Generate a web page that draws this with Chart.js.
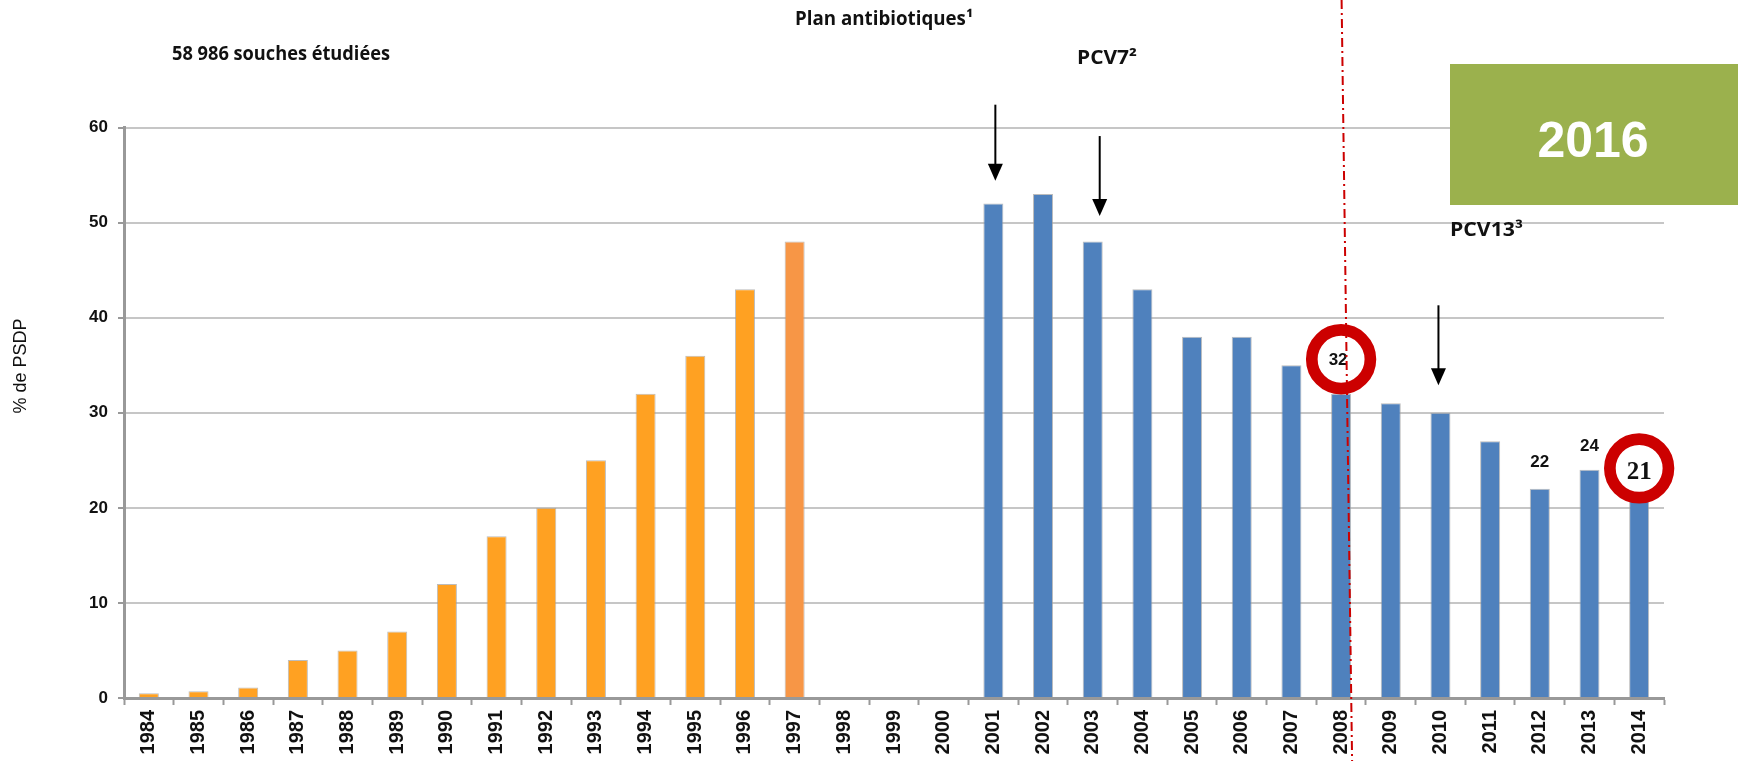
<!DOCTYPE html>
<html lang="fr">
<head>
<meta charset="utf-8">
<title>% de PSDP 1984-2014</title>
<script src="https://cdn.jsdelivr.net/npm/chart.js@4.4.1/dist/chart.umd.min.js"></script>
<style>
  html, body { margin: 0; padding: 0; background: #fff; }
  #wrap { position: relative; width: 1738px; height: 761px; }
</style>
</head>
<body>
<div id="wrap"><canvas id="chart"></canvas></div>
<script>
// Years on the x axis
const years = ['1984', '1985', '1986', '1987', '1988', '1989', '1990', '1991', '1992', '1993',
  '1994', '1995', '1996', '1997', '1998', '1999', '2000', '2001', '2002', '2003', '2004',
  '2005', '2006', '2007', '2008', '2009', '2010', '2011', '2012', '2013', '2014'];

// % de PSDP per year (null = no bar)
const psdpValues = [0.5, 0.7, 1.1, 4, 5, 7, 12, 17, 20, 25, 32, 36, 43, 48, null, null, null,
  52, 53, 48, 43, 38, 38, 35, 32, 31, 30, 27, 22, 24, 21];

const yTicks = [0, 10, 20, 30, 40, 50, 60];

// years with a plain value label above the bar, and years with a red ring
const labelledYears = ['2012', '2013'];
const circledYears = ['2008', '2014'];

// years pointed at by the arrows
const arrowYears = ['2001', '2003', '2010'];

const ORANGE = '#FFA122';
const ORANGE_97 = '#F79646';
const BLUE = '#4F81BD';
const RED = '#CC0000';
const FONT = '"Liberation Sans", Arial, sans-serif';
const CAL = '"Open Sans", "Liberation Sans", sans-serif';

function barColor(year) {
  const y = Number(year);
  if (y < 1997) return ORANGE;
  if (y === 1997) return ORANGE_97;
  return BLUE;
}

// draws a text squeezed/stretched to a given width (Calibri-like look)
function fitText(ctx, str, left, cy, width, font) {
  ctx.save();
  ctx.font = font;
  const w = ctx.measureText(str).width;
  ctx.translate(left, cy);
  ctx.scale(width / w, 1);
  ctx.textAlign = 'left';
  ctx.textBaseline = 'middle';
  ctx.fillStyle = '#111';
  ctx.fillText(str, 0, 0);
  ctx.restore();
}

function drawArrow(ctx, x, top, tip) {
  ctx.save();
  ctx.strokeStyle = '#000';
  ctx.fillStyle = '#000';
  ctx.lineWidth = 2;
  ctx.beginPath();
  ctx.moveTo(x, top);
  ctx.lineTo(x, tip - 14);
  ctx.stroke();
  ctx.beginPath();
  ctx.moveTo(x - 7.5, tip - 17);
  ctx.lineTo(x + 7.5, tip - 17);
  ctx.lineTo(x, tip);
  ctx.closePath();
  ctx.fill();
  ctx.restore();
}

const overlay = {
  id: 'overlay',
  afterDatasetsDraw(chart) {
    const { ctx, scales: { x, y } } = chart;
    const idx = yr => years.indexOf(yr);

    // value labels above 2012 / 2013
    ctx.save();
    ctx.font = 'bold 17px ' + FONT;
    ctx.fillStyle = '#111';
    ctx.textAlign = 'center';
    ctx.textBaseline = 'middle';
    const labelGap = { '2012': 27, '2013': 23 };
    labelledYears.forEach(yr => {
      const i = idx(yr);
      ctx.fillText(String(psdpValues[i]), x.getPixelForValue(i), y.getPixelForValue(psdpValues[i]) - labelGap[yr]);
    });
    ctx.restore();

    // red rings
    const ringLift = { '2008': 34.5, '2014': 30 };
    circledYears.forEach(yr => {
      const i = idx(yr);
      const cx = x.getPixelForValue(i);
      const cy = y.getPixelForValue(psdpValues[i]) - ringLift[yr];
      ctx.save();
      ctx.beginPath();
      ctx.arc(cx, cy, 29.3, 0, Math.PI * 2);
      ctx.fillStyle = '#fff';
      ctx.fill();
      ctx.lineWidth = 11.7;
      ctx.strokeStyle = RED;
      ctx.stroke();
      ctx.fillStyle = '#111';
      ctx.textAlign = 'center';
      ctx.textBaseline = 'middle';
      if (yr === '2014') {
        ctx.font = 'bold 25px "Liberation Serif", "Times New Roman", serif';
        ctx.fillText(String(psdpValues[i]), cx, cy + 4);
      } else {
        ctx.font = 'bold 17px ' + FONT;
        ctx.fillText(String(psdpValues[i]), cx - 3, cy + 1);
      }
      ctx.restore();
    });

    // red dash-dot line through 2008
    const lx = x.getPixelForValue(idx('2008'));
    ctx.save();
    ctx.strokeStyle = RED;
    ctx.lineWidth = 2;
    ctx.setLineDash([9, 4, 2, 4]);
    ctx.beginPath();
    ctx.moveTo(lx + 0.5, 0);
    ctx.lineTo(lx + 11, chart.height);
    ctx.stroke();
    ctx.restore();

    // arrows
    const arrowSpan = { '2001': [62.4, 54.4, 2], '2003': [59.1, 50.7, 7], '2010': [41.3, 32.9, -2] };
    arrowYears.forEach(yr => {
      const s = arrowSpan[yr];
      const ax = x.getPixelForValue(idx(yr)) + s[2];
      drawArrow(ctx, ax, y.getPixelForValue(s[0]), y.getPixelForValue(s[1]));
    });

    // annotations
    fitText(ctx, '58 986 souches étudiées', 172, 55, 218, 'bold 19px ' + CAL);
    fitText(ctx, 'Plan antibiotiques¹', 795, 20, 178, 'bold 19px ' + CAL);
    fitText(ctx, 'PCV7²', 1077, 59, 60, 'bold 19px ' + CAL);
    fitText(ctx, 'PCV13³', 1450, 231, 73, 'bold 19px ' + CAL);

    // green year box
    ctx.save();
    ctx.fillStyle = '#9BB14D';
    ctx.fillRect(1450, 64, 288, 141);
    ctx.fillStyle = '#fff';
    ctx.font = 'bold 50px ' + FONT;
    ctx.textAlign = 'center';
    ctx.textBaseline = 'middle';
    ctx.fillText('2016', 1593, 143);
    ctx.restore();

    // y axis title
    ctx.save();
    ctx.translate(21, 366);
    ctx.rotate(-Math.PI / 2);
    ctx.font = '18px ' + FONT;
    ctx.fillStyle = '#111';
    ctx.textAlign = 'center';
    ctx.textBaseline = 'middle';
    ctx.fillText('% de PSDP', 0, 0);
    ctx.restore();
  }
};

new Chart(document.getElementById('chart'), {
  type: 'bar',
  data: {
    labels: years,
    datasets: [{
      label: '% de PSDP',
      data: psdpValues,
      backgroundColor: years.map(barColor),
      borderColor: 'rgba(160,160,160,0.7)',
      borderWidth: 1,
      barPercentage: 0.403,
      categoryPercentage: 1
    }]
  },
  options: {
    responsive: true,
    maintainAspectRatio: false,
    animation: false,
    layout: { padding: { top: 127.5, right: 74, left: 0, bottom: 0 } },
    plugins: { legend: { display: false }, tooltip: { enabled: false } },
    scales: {
      x: {
        offset: true,
        grid: { offset: true, drawOnChartArea: false, tickLength: 7, tickColor: '#999', tickWidth: 2 },
        border: { color: '#999', width: 3 },
        ticks: {
          minRotation: 90, maxRotation: 90, autoSkip: false, padding: 5, color: '#111',
          font: { family: FONT, weight: 'bold', size: 20 }
        },
        afterFit(s) { s.height = 63; }
      },
      y: {
        min: 0,
        max: 60,
        afterBuildTicks(s) { s.ticks = yTicks.map(v => ({ value: v })); },
        grid: { color: '#C6C6C6', lineWidth: 2, tickLength: 6, tickColor: '#999', tickWidth: 2 },
        border: { color: '#999', width: 3 },
        ticks: { padding: 10, color: '#111', font: { family: FONT, weight: 'bold', size: 17 } },
        afterFit(s) { s.width = 124; }
      }
    }
  },
  plugins: [overlay]
});
</script>
</body>
</html>
